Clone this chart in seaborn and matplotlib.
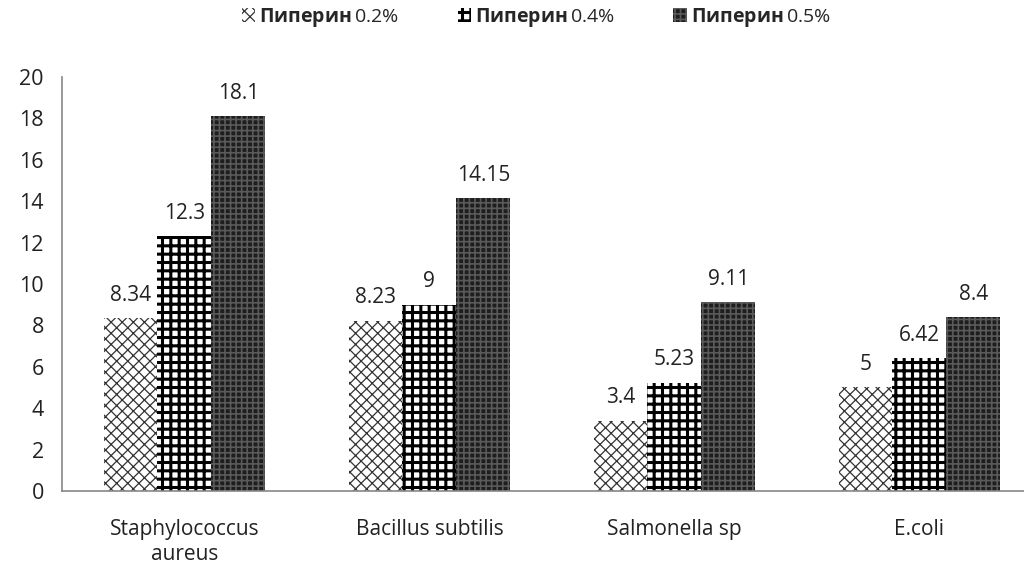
import pandas as pd
import matplotlib
matplotlib.use("Agg")
import matplotlib.pyplot as plt
import seaborn as sns

categories = ["Staphylococcus\naureus", "Bacillus subtilis", "Salmonella sp", "E.coli"]
series = ["Пиперин 0.2%", "Пиперин 0.4%", "Пиперин 0.5%"]
v02 = [8.34, 8.23, 3.4, 5]
v04 = [12.3, 9, 5.23, 6.42]
v05 = [18.1, 14.15, 9.11, 8.4]
labels02 = ["8.34", "8.23", "3.4", "5"]
labels04 = ["12.3", "9", "5.23", "6.42"]
labels05 = ["18.1", "14.15", "9.11", "8.4"]

df = pd.DataFrame({
    "cat": categories * 3,
    "series": [series[0]] * 4 + [series[1]] * 4 + [series[2]] * 4,
    "value": v02 + v04 + v05,
})

sns.set_style("white")
plt.rcParams['font.family'] = ['Open Sans', 'DejaVu Sans']
plt.rcParams['hatch.linewidth'] = 2.2
plt.rcParams['mathtext.fontset'] = 'custom'
plt.rcParams['mathtext.bf'] = 'Open Sans:bold'
plt.rcParams['mathtext.rm'] = 'Open Sans'

fig = plt.figure(figsize=(10.24, 5.68), dpi=100)
ax = fig.add_axes([0.0605, 0.1356, 0.9395, 0.7288])

sns.barplot(data=df, x="cat", y="value", hue="series", order=categories,
            hue_order=series, palette=["white", "white", "#2a2a2a"],
            width=0.66, gap=0, ax=ax, errorbar=None, legend=False)

# hatch, hatch colour, fill, hatch line width
styles = [("xxx", "#333333", "white", 0.9), ("++", "black", "white", 2.2),
          ("+++", "#5a5a5a", "#1e1e1e", 1.2)]
for cont, (h, ec, fc, hl) in zip(ax.containers, styles):
    for p in cont.patches:
        p.set_hatch(h)
        p.set_edgecolor(ec)
        p.set_facecolor(fc)
        p.set_linewidth(0)
        if hasattr(p, "set_hatch_linewidth"):
            p.set_hatch_linewidth(hl)

for cont, labs in zip(ax.containers, [labels02, labels04, labels05]):
    ax.bar_label(cont, labels=labs, padding=9, fontsize=15, color="#222222")

ax.set_ylim(0, 20)
ax.set_yticks(range(0, 21, 2))
ax.set_xlim(-0.5, 3.427)
ax.set_xlabel("")
ax.set_ylabel("")
ax.tick_params(axis="y", length=7, width=1, color="#888888", labelsize=15.5, pad=6)
ax.tick_params(axis="x", length=0, labelsize=15, pad=20)
for lab in ax.get_xticklabels():
    lab.set_linespacing(1.25)
    lab.set_color("#222222")
for lab in ax.get_yticklabels():
    lab.set_color("#222222")
for s in ["top", "right"]:
    ax.spines[s].set_visible(False)
for s in ["left", "bottom"]:
    ax.spines[s].set_color("#888888")
    ax.spines[s].set_linewidth(1.2)

leg_labels = [r"$\mathbf{Пиперин}\,$" + s.split(" ")[1] for s in series]
leg = ax.legend(ax.containers, leg_labels, loc="upper center", bbox_to_anchor=(0.493, 1.215),
                ncol=3, frameon=False, fontsize=14, handlelength=0.7, handleheight=0.7,
                handletextpad=0.2, columnspacing=3.0)
for h, (_, _, _, hl) in zip(leg.legend_handles, styles):
    if hasattr(h, "set_hatch_linewidth"):
        h.set_hatch_linewidth(hl)

fig.savefig("out.png", dpi=100)
plt.close(fig)
